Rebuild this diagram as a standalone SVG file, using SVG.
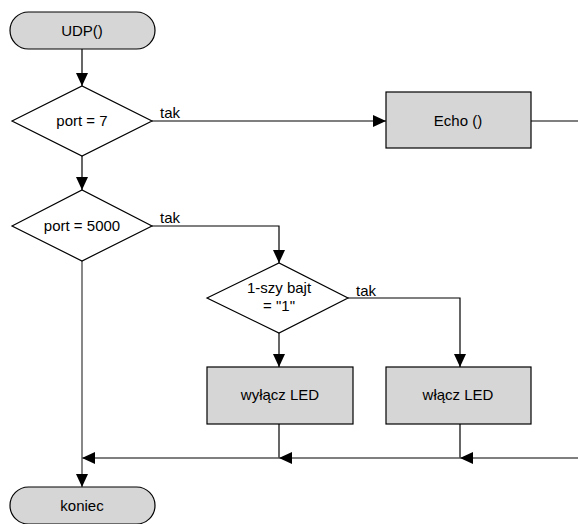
<svg xmlns="http://www.w3.org/2000/svg" width="578" height="524" viewBox="0 0 578 524">
<style>
.n{fill:#d6d6d6;stroke:#000;stroke-width:1.2}
.d{fill:#fff;stroke:#000;stroke-width:1.2}
.t{font-family:"Liberation Sans",Arial,sans-serif;font-size:15px;fill:#000;text-anchor:middle}
.l{font-family:"Liberation Sans",Arial,sans-serif;font-size:15px;fill:#000}
.c{fill:none;stroke:#000;stroke-width:1.2}
.g{fill:none;stroke:#555;stroke-width:1.4}
</style>
<defs>
<marker id="a" markerWidth="14" markerHeight="12" refX="13" refY="6" orient="auto" markerUnits="userSpaceOnUse">
<path d="M0,0 L13,6 L0,12 Z" fill="#000"/>
</marker>
</defs>
<g id="connectors">
<path class="c" d="M82,49 V86" marker-end="url(#a)"/>
<path class="c" d="M152,121 H386" marker-end="url(#a)"/>
<path class="c" d="M531,121 H578"/>
<path class="c" d="M82,156 V190" marker-end="url(#a)"/>
<path class="c" d="M152,226 H279 V263" marker-end="url(#a)"/>
<path class="c" d="M348,298 H460 V367" marker-end="url(#a)"/>
<path class="c" d="M279,333 V367" marker-end="url(#a)"/>
<path class="c" d="M279,424 V458"/>
<path class="c" d="M460,424 V458"/>
<path class="g" d="M578,458 H460" marker-end="url(#a)"/>
<path class="g" d="M460,458 H279" marker-end="url(#a)"/>
<path class="g" d="M279,458 H82" marker-end="url(#a)"/>
<path class="g" d="M82,261 V487" marker-end="url(#a)"/>
<text class="l" x="160" y="118">tak</text>
<text class="l" x="160" y="223">tak</text>
<text class="l" x="356" y="296">tak</text>
</g>
<g id="start">
<rect class="n" x="10" y="12" width="145" height="37" rx="18.5"/>
<text class="t" x="82" y="36">UDP()</text>
</g>
<g id="port7">
<path class="d" d="M12,121 L82,86 L152,121 L82,156 Z"/>
<text class="t" x="82" y="126">port = 7</text>
</g>
<g id="echo">
<rect class="n" x="386" y="92" width="145" height="56"/>
<text class="t" x="458" y="126">Echo ()</text>
</g>
<g id="port5000">
<path class="d" d="M12,226 L82,190 L152,226 L82,261 Z"/>
<text class="t" x="82" y="231">port = 5000</text>
</g>
<g id="bajt">
<path class="d" d="M207,298 L279,263 L348,298 L279,333 Z"/>
<text class="t" x="279" y="293">1-szy bajt</text>
<text class="t" x="279" y="311">= "1"</text>
</g>
<g id="wylacz">
<rect class="n" x="207" y="367" width="146" height="57"/>
<text class="t" x="280" y="400">wyłącz LED</text>
</g>
<g id="wlacz">
<rect class="n" x="386" y="367" width="145" height="57"/>
<text class="t" x="458" y="400">włącz LED</text>
</g>
<g id="end">
<rect class="n" x="10" y="487" width="145" height="37" rx="18.5"/>
<text class="t" x="82" y="511">koniec</text>
</g>
</svg>
